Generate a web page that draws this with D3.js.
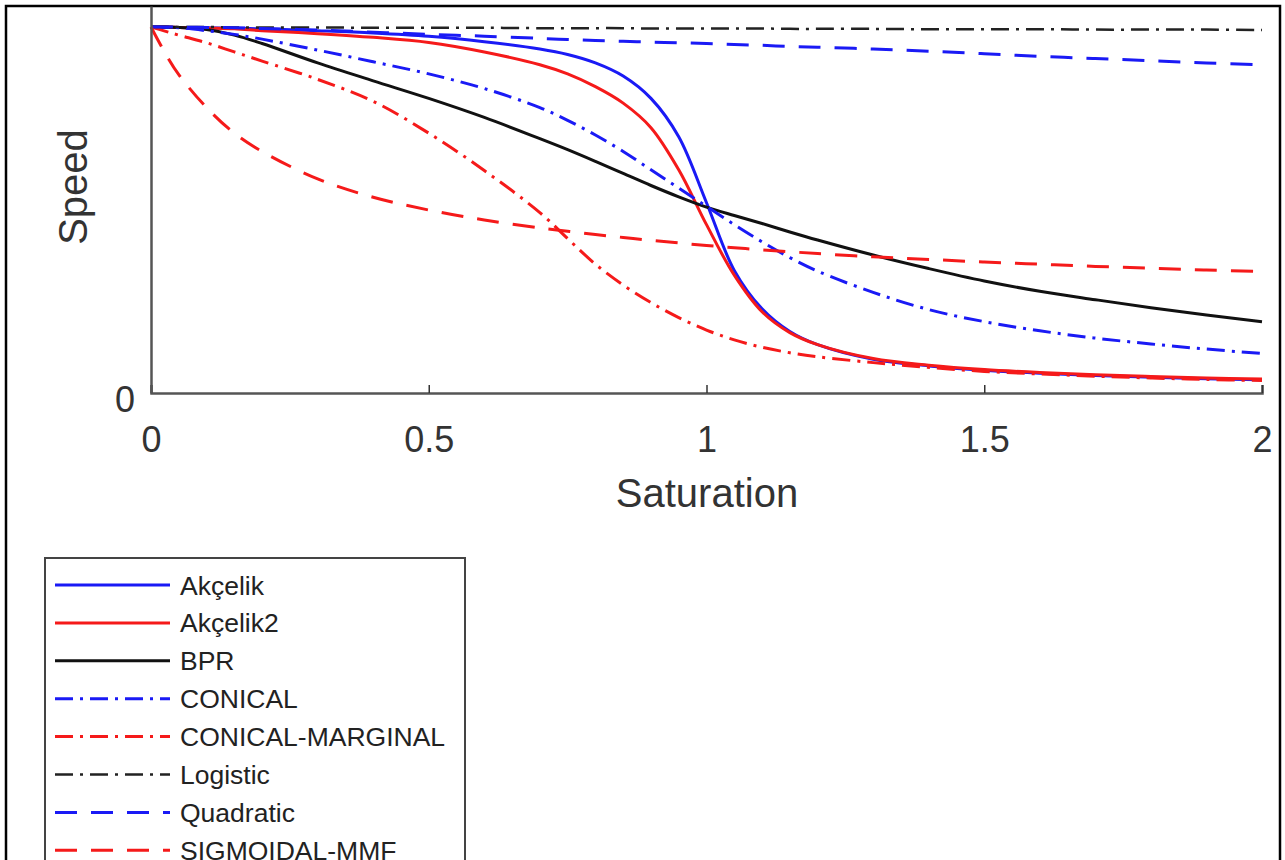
<!DOCTYPE html>
<html>
<head>
<meta charset="utf-8">
<script src="https://cdn.jsdelivr.net/npm/d3@7"></script>
<style>
  body { margin: 0; background: #fff; }
  svg { font-family: "Liberation Sans", Arial, sans-serif; }
</style>
</head>
<body>
<script>
"use strict";

// saturation grid shared by all curves
let satX = [0, 0.025, 0.05, 0.1, 0.15, 0.2, 0.3, 0.4, 0.5, 0.6, 0.7, 0.75, 0.8, 0.85, 0.9, 0.95,
            1.0, 1.05, 1.1, 1.15, 1.2, 1.3, 1.4, 1.5, 1.6, 1.7, 1.8, 1.9, 2.0];

let akcelik = [1, 1, 0.999, 0.998, 0.997, 0.995, 0.99, 0.984, 0.975, 0.96, 0.94, 0.925, 0.902, 0.866, 0.805, 0.7,
               0.52, 0.335, 0.23, 0.168, 0.132, 0.092, 0.074, 0.062, 0.054, 0.048, 0.043, 0.039, 0.036];
let akcelik2 = [1, 1, 0.999, 0.997, 0.995, 0.99, 0.982, 0.972, 0.958, 0.932, 0.897, 0.872, 0.837, 0.792, 0.725, 0.61,
                0.46, 0.322, 0.222, 0.165, 0.132, 0.094, 0.076, 0.064, 0.056, 0.05, 0.045, 0.041, 0.038];
let bpr = [1, 1, 0.999, 0.993, 0.978, 0.955, 0.902, 0.853, 0.805, 0.753, 0.695, 0.665, 0.633, 0.6, 0.567, 0.536,
           0.508, 0.485, 0.463, 0.44, 0.418, 0.377, 0.34, 0.306, 0.278, 0.255, 0.233, 0.213, 0.195];
let conical = [1, 0.999, 0.998, 0.99, 0.98, 0.967, 0.937, 0.905, 0.872, 0.832, 0.78, 0.745, 0.705, 0.66, 0.61, 0.56,
               0.51, 0.46, 0.413, 0.37, 0.333, 0.275, 0.228, 0.195, 0.17, 0.15, 0.134, 0.12, 0.108];
let conicalMarginal = [1, 0.989, 0.978, 0.957, 0.932, 0.907, 0.857, 0.797, 0.71, 0.608, 0.493, 0.422, 0.352, 0.295, 0.247, 0.206,
                       0.172, 0.145, 0.125, 0.11, 0.099, 0.083, 0.07, 0.059, 0.052, 0.046, 0.041, 0.037, 0.034];
let logistic = [1, 1, 1, 1, 0.999, 0.999, 0.999, 0.998, 0.998, 0.998, 0.997, 0.997, 0.997, 0.997, 0.996, 0.996,
                0.996, 0.996, 0.996, 0.995, 0.995, 0.995, 0.994, 0.994, 0.994, 0.993, 0.993, 0.993, 0.992];
let quadratic = [1, 1, 1, 0.999, 0.998, 0.996, 0.992, 0.986, 0.98, 0.975, 0.969, 0.966, 0.963, 0.961, 0.959, 0.957,
                 0.955, 0.952, 0.95, 0.947, 0.945, 0.94, 0.934, 0.927, 0.92, 0.914, 0.908, 0.902, 0.897];
let sigmoidalMMF = [1, 0.93, 0.87, 0.78, 0.71, 0.66, 0.585, 0.535, 0.5, 0.473, 0.451, 0.442, 0.433, 0.425, 0.417, 0.41,
                    0.403, 0.397, 0.391, 0.386, 0.381, 0.372, 0.365, 0.358, 0.352, 0.346, 0.341, 0.336, 0.332];

let seriesNames = ["Akçelik", "Akçelik2", "BPR", "CONICAL", "CONICAL-MARGINAL", "Logistic", "Quadratic", "SIGMOIDAL-MMF"];
let seriesValues = [akcelik, akcelik2, bpr, conical, conicalMarginal, logistic, quadratic, sigmoidalMMF];
let xTicks = [0, 0.5, 1, 1.5, 2];

// line styles (matlab-ish)
let blue = "#1a1af5", red = "#f51a1a";
let styles = [
    { color: blue, dash: null, width: 3 },
    { color: red, dash: null, width: 3 },
    { color: "#111", dash: null, width: 3 },
    { color: blue, dash: "18,7,3,7", width: 3 },
    { color: red, dash: "18,7,3,7", width: 3 },
    { color: "#222", dash: "18,7,3,7", width: 2.5 },
    { color: blue, dash: "22,14", width: 3 },
    { color: red, dash: "22,14", width: 3 }
];

let canvas = d3.select("body").append("svg").attr("width", 1285).attr("height", 860);

// outer frame of the figure
canvas.append("rect")
    .attr("x", 6).attr("y", 6).attr("width", 1274).attr("height", 900)
    .attr("fill", "none").attr("stroke", "#000").attr("stroke-width", 2.5);

let x = d3.scaleLinear().domain([0, 2]).range([151, 1262]);
let y = d3.scaleLinear().domain([0, 1.0575]).range([393, 6]);

let line = d3.line()
    .x((d, i) => x(satX[i]))
    .y(d => y(d))
    .curve(d3.curveCatmullRom.alpha(0.5));

canvas.append("g")
    .selectAll("path")
    .data(seriesValues)
    .enter()
    .append("path")
    .attr("d", d => line(d))
    .attr("fill", "none")
    .attr("stroke", (d, i) => styles[i].color)
    .attr("stroke-width", (d, i) => styles[i].width)
    .attr("stroke-dasharray", (d, i) => styles[i].dash);

// axes
let xAxis = canvas.append("g")
    .attr("transform", "translate(0,393)")
    .call(d3.axisBottom(x).tickValues(xTicks).tickSize(-8).tickPadding(33).tickFormat(d3.format("")));
xAxis.select(".domain").attr("stroke", "#555").attr("stroke-width", 2.5);
xAxis.selectAll(".tick line").attr("stroke", "#333").attr("stroke-width", 1.5);
xAxis.selectAll("text").attr("font-size", 36).attr("fill", "#333");

let yAxis = canvas.append("g")
    .attr("transform", "translate(151,0)")
    .call(d3.axisLeft(y).tickValues([0]).tickSize(0).tickPadding(16).tickFormat(d3.format("")));
yAxis.select(".domain").attr("stroke", "#555").attr("stroke-width", 2.5);
yAxis.selectAll("text").attr("font-size", 36).attr("fill", "#333").attr("dy", "0.5em");

canvas.append("text")
    .attr("transform", "translate(87,187) rotate(-90)")
    .attr("text-anchor", "middle")
    .attr("font-size", 40)
    .attr("fill", "#333")
    .text("Speed");

canvas.append("text")
    .attr("x", 707).attr("y", 507)
    .attr("text-anchor", "middle")
    .attr("font-size", 40)
    .attr("fill", "#333")
    .text("Saturation");

// legend
let legend = canvas.append("g");
legend.append("rect")
    .attr("x", 45).attr("y", 558).attr("width", 420).attr("height", 340)
    .attr("fill", "#fff").attr("stroke", "#444").attr("stroke-width", 2);

let rows = legend.selectAll("g.row")
    .data(seriesNames)
    .enter()
    .append("g")
    .attr("class", "row")
    .attr("transform", (d, i) => `translate(0,${585 + i * 37.9})`);

rows.append("line")
    .attr("x1", 55).attr("x2", 170)
    .attr("stroke", (d, i) => styles[i].color)
    .attr("stroke-width", (d, i) => styles[i].width)
    .attr("stroke-dasharray", (d, i) => styles[i].dash);

rows.append("text")
    .attr("x", 180).attr("dy", "0.36em")
    .attr("font-size", 26.5)
    .attr("fill", "#222")
    .text(d => d);
</script>
</body>
</html>
